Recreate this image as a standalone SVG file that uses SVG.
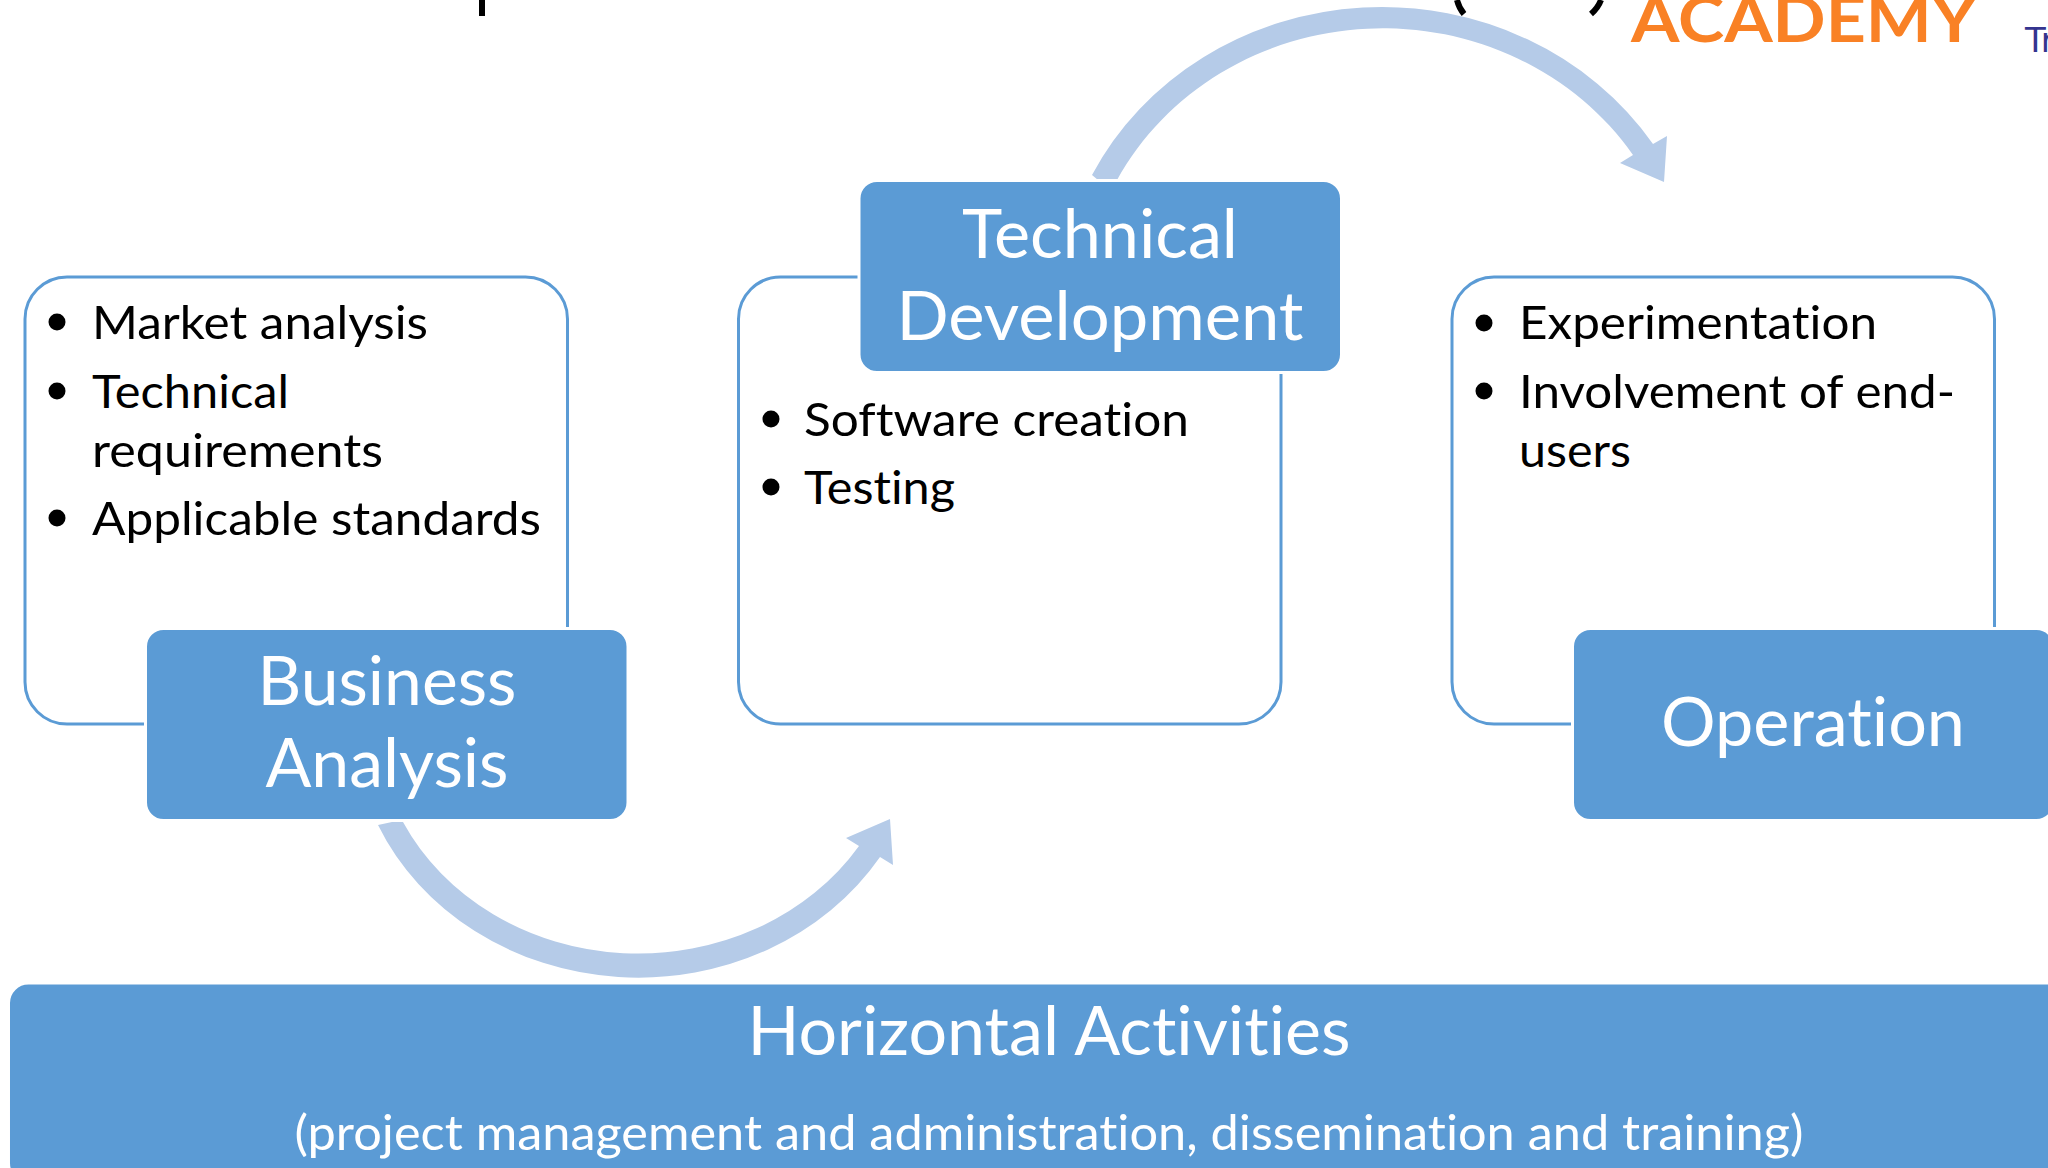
<svg xmlns="http://www.w3.org/2000/svg" width="2048" height="1168" viewBox="0 0 2048 1168">
<style>
.panel{fill:#fff;stroke:#5B9BD5;stroke-width:3}
.head{fill:#5B9BD5;stroke:#fff;stroke-width:3}
.arrow{fill:#B5CBE8}
.frag{fill:none;stroke:#000;stroke-width:6}
text{font-family:"Lato","Open Sans",sans-serif;font-variant-ligatures:none}
.t{font-size:68px;fill:#fff;text-anchor:middle}
.b{font-size:47px;fill:#000}
.s{font-size:48px;fill:#fff;text-anchor:middle}
.dot{fill:#000}
</style>
<rect width="2048" height="1168" fill="#fff"/>
<g id="header">
<path class="frag" d="M482 0V16"/>
<path class="frag" d="M1457 0Q1459 8 1464 14"/>
<path class="frag" d="M1601 0Q1598 8 1591 14"/>
<text x="1631" y="41.500" font-size="64" font-weight="700" textLength="346" lengthAdjust="spacingAndGlyphs" fill="#F98125">ACADEMY</text>
<text x="2025" y="52" font-size="34" fill="#34348F" style="font-family:'DejaVu Sans',sans-serif">Tr</text>
</g>
<g id="connectors">
<path class="arrow" d="M378 825 A285 257 0 0 0 880 857 L893 865 L890 819 L846 838 L859 846 A262 234 0 0 1 403 822 L392 822Z"/>
<path class="arrow" d="M1092 175 A324 303 0 0 1 1653 144 L1667 136 L1664 182 L1620 163 L1633 155 A299 280 0 0 0 1117 180 L1098 180Z"/>
</g>
<g id="analysis-panel">
<rect class="panel" x="25" y="277" width="542.500" height="447" rx="42"/>
<circle class="dot" cx="57" cy="322" r="8.500"/><circle class="dot" cx="57" cy="391" r="8.500"/><circle class="dot" cx="57" cy="518" r="8.500"/>
<text class="b" x="92" y="339" textLength="336" lengthAdjust="spacingAndGlyphs">Market analysis</text>
<text class="b" x="92" y="408" textLength="197" lengthAdjust="spacingAndGlyphs">Technical</text>
<text class="b" x="92" y="467" textLength="291" lengthAdjust="spacingAndGlyphs">requirements</text>
<text class="b" x="92" y="535" textLength="449" lengthAdjust="spacingAndGlyphs">Applicable standards</text>
</g>
<g id="development-panel">
<rect class="panel" x="738.500" y="277" width="542.500" height="447" rx="42"/>
<circle class="dot" cx="771" cy="419" r="8.500"/><circle class="dot" cx="771" cy="487" r="8.500"/>
<text class="b" x="804" y="436" textLength="385" lengthAdjust="spacingAndGlyphs">Software creation</text>
<text class="b" x="804" y="504" textLength="151" lengthAdjust="spacingAndGlyphs">Testing</text>
</g>
<g id="operation-panel">
<rect class="panel" x="1452" y="277" width="542.500" height="447" rx="42"/>
<circle class="dot" cx="1484" cy="323" r="8.500"/><circle class="dot" cx="1484" cy="391" r="8.500"/>
<text class="b" x="1519" y="339" textLength="358" lengthAdjust="spacingAndGlyphs">Experimentation</text>
<text class="b" x="1519" y="408" textLength="436" lengthAdjust="spacingAndGlyphs">Involvement of end-</text>
<text class="b" x="1519" y="467" textLength="112" lengthAdjust="spacingAndGlyphs">users</text>
</g>
<g id="business-analysis">
<rect class="head" x="145.500" y="628.500" width="482.500" height="192" rx="18"/>
<text class="t" x="387" y="705" textLength="259" lengthAdjust="spacingAndGlyphs">Business</text>
<text class="t" x="387" y="787" textLength="243" lengthAdjust="spacingAndGlyphs">Analysis</text>
</g>
<g id="technical-development">
<rect class="head" x="859" y="180.500" width="482.500" height="192" rx="18"/>
<text class="t" x="1100" y="258" textLength="276" lengthAdjust="spacingAndGlyphs">Technical</text>
<text class="t" x="1100" y="340" textLength="407" lengthAdjust="spacingAndGlyphs">Development</text>
</g>
<g id="operation">
<rect class="head" x="1572.500" y="628.500" width="482" height="192" rx="18"/>
<text class="t" x="1813" y="746" textLength="304" lengthAdjust="spacingAndGlyphs">Operation</text>
</g>
<g id="horizontal-activities">
<rect class="head" x="8.500" y="983" width="2060" height="200" rx="20"/>
<text class="t" x="1049" y="1055" textLength="603" lengthAdjust="spacingAndGlyphs">Horizontal Activities</text>
<text class="s" x="1049" y="1150" textLength="1509" lengthAdjust="spacingAndGlyphs">(project management and administration, dissemination and training)</text>
</g>
</svg>
